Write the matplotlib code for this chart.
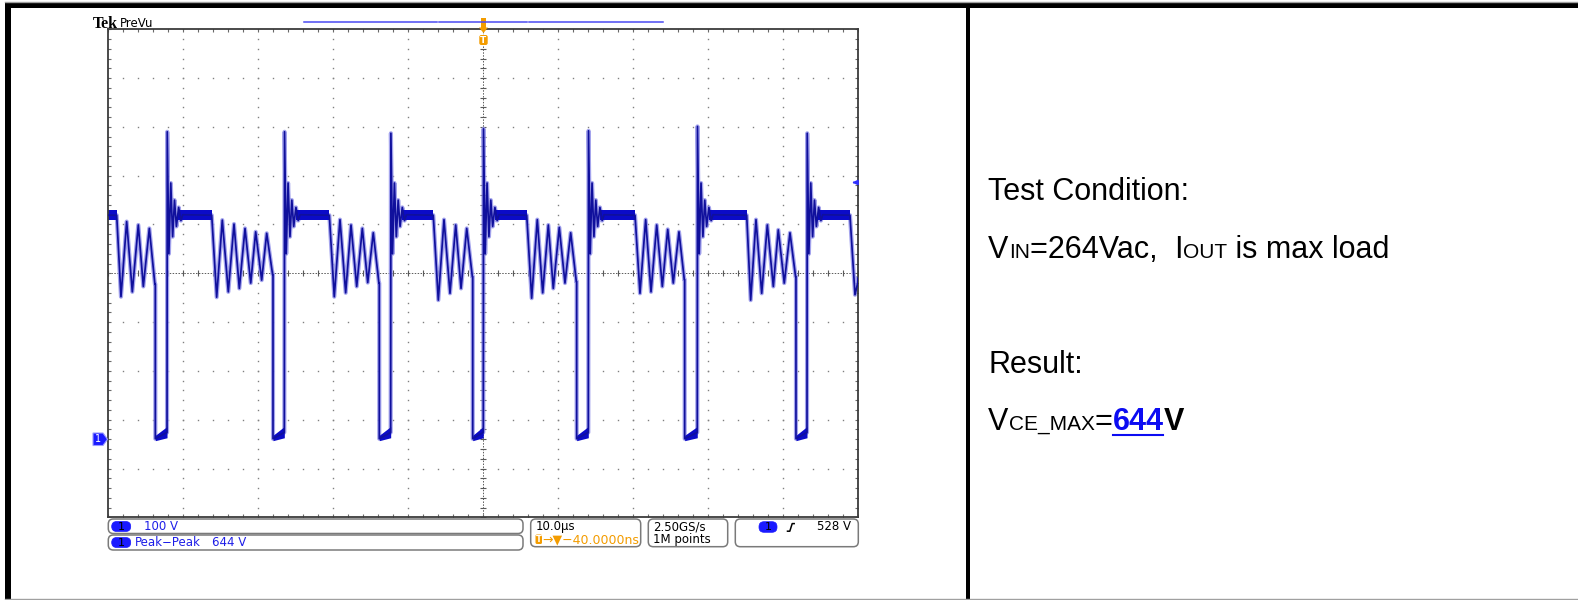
import numpy as np
import matplotlib
matplotlib.use("Agg")
import matplotlib.pyplot as plt
from matplotlib.patches import Rectangle, FancyBboxPatch, Polygon

# ---- scope capture, time in us, voltage in V (100 V/div, 10 us/div) ----
t_fall = [6.31, 22.00, 36.17, 48.63, 62.49, 76.89, 91.73]
t_rise = [7.87, 23.51, 37.69, 50.04, 64.04, 78.57, 93.20]
t_flat_end = [1.16, 13.83, 29.51, 43.37, 55.83, 70.27, 85.16, 98.93]
spike_peak = [630, 630, 627, 636, 632, 641, 627]

# valley ringing after the reflected-voltage plateau (turning points)
ring_t = [
    [1.73, 2.49, 3.24, 4.04, 4.71, 5.51, 6.25],
    [14.49, 15.24, 16.04, 16.80, 17.51, 18.27, 19.03, 19.69, 20.49, 21.16, 21.95],
    [30.17, 30.93, 31.69, 32.40, 33.16, 33.91, 34.63, 35.37, 36.12],
    [44.04, 44.80, 45.60, 46.36, 47.07, 47.83, 48.58],
    [56.49, 57.24, 57.96, 58.71, 59.37, 60.17, 60.93, 61.69, 62.44],
    [70.93, 71.69, 72.40, 73.16, 73.91, 74.63, 75.37, 76.13, 76.84],
    [85.69, 86.40, 87.16, 87.91, 88.71, 89.37, 90.17, 90.93, 91.68],
    [99.60, 99.96],
]
ring_v = [
    [292, 446, 302, 439, 313, 432, 318],
    [291, 449, 302, 441, 309, 432, 320, 425, 326, 422, 337],
    [292, 450, 300, 439, 313, 432, 321, 423, 320],
    [285, 450, 299, 439, 309, 432, 333],
    [289, 450, 300, 439, 309, 434, 320, 423, 323],
    [299, 450, 302, 439, 313, 430, 320, 425, 327],
    [285, 450, 299, 439, 313, 429, 320, 423, 333],
    [296, 320],
]
# leakage spike ringing after turn-off (offset from the edge, volts)
spike_dt = [0.25, 0.50, 0.75, 1.00, 1.25, 1.55, 1.85, 2.10]
spike_v = [380, 525, 415, 490, 436, 475, 448, 460]
plateau_v = 459
plateau_lo, plateau_hi = 449, 470
# on-state level at the start / end of each on-time
low_v = [1, 14]
low_lo = [-3, 3]
low_hi = [8, 26]

trig_level = 528
vpp = 644

# build the trace from the pieces above
t = [0.0, t_flat_end[0]]
v = [plateau_v, plateau_v]
for i in range(len(t_fall)):
    t += ring_t[i]
    v += ring_v[i]
    t += [t_fall[i], t_fall[i], t_rise[i], t_rise[i] + 0.03]
    v += [ring_v[i][-1], low_v[0], low_v[1], spike_peak[i]]
    t += [t_rise[i] + d for d in spike_dt]
    v += spike_v
    t += [t_flat_end[i + 1]]
    v += [plateau_v]
t += ring_t[-1] + [100.0]
v += ring_v[-1] + [330]

fig = plt.figure(figsize=(15.78, 6.0), dpi=100, facecolor='white')

# scope graticule
ax = fig.add_axes([108 / 1578, (600 - 517.3) / 600, 750 / 1578, 488 / 600])
ax.set_xlim(0, 100)
ax.set_ylim(-160, 840)
ax.set_xticks([])
ax.set_yticks([])
for s in ax.spines.values():
    s.set_color('#3c3c3c')
    s.set_linewidth(1.3)

grid_c = '#808080'
xs_minor = np.arange(0, 100.01, 2)
ys_minor = np.arange(-160, 840.1, 20)
for xd in range(10, 100, 10):
    if xd == 50:
        continue
    ax.plot(np.full(len(ys_minor), xd), ys_minor, ls='none', marker='s',
            ms=1.0, mew=0, color=grid_c)
for yd in range(-60, 840, 100):
    if yd == 340:
        continue
    ax.plot(xs_minor, np.full(len(xs_minor), yd), ls='none', marker='s',
            ms=1.0, mew=0, color=grid_c)
ax.axvline(50, ls=(0, (1.5, 1.5)), lw=0.7, color='#5a5a5a')
ax.axhline(340, ls=(0, (1.5, 1.5)), lw=0.7, color='#5a5a5a')
ax.plot(np.full(len(ys_minor), 50), ys_minor, ls='none', marker='_', ms=4,
        mew=0.8, color='#5a5a5a')
ax.plot(xs_minor, np.full(len(xs_minor), 340), ls='none', marker='|', ms=4,
        mew=0.8, color='#5a5a5a')
for yy in (-160, 840):
    ax.plot(xs_minor, np.full(len(xs_minor), yy), ls='none', marker='|',
            ms=4, mew=0.8, color='#6a6a6a')
for xx in (0, 100):
    ax.plot(np.full(len(ys_minor), xx), ys_minor, ls='none', marker='_',
            ms=4, mew=0.8, color='#6a6a6a')

# trace: soft halo, solid noise bands, then the sharp line
trace_c = '#10109c'
band_c = '#0b0bc8'
ax.plot(t, v, color='#9494ea', lw=3.0, alpha=0.85, solid_joinstyle='round',
        zorder=2)
ax.fill_between([0, t_flat_end[0]], plateau_lo, plateau_hi, color=band_c,
                lw=0, zorder=2.5)
for i in range(len(t_fall)):
    ax.fill_between([t_fall[i], t_rise[i]], low_lo, low_hi, color=band_c,
                    lw=0, zorder=2.5)
    ax.fill_between([t_rise[i] + 1.5, t_flat_end[i + 1]], plateau_lo,
                    plateau_hi, color=band_c, lw=0, zorder=2.5)
ax.plot(t, v, color=trace_c, lw=1.25, solid_joinstyle='round', zorder=3)

# overlay in pixel coordinates: frame, markers, readouts, notes
bg = fig.add_axes([0, 0, 1, 1], zorder=3)
bg.set_xlim(0, 1578)
bg.set_ylim(600, 0)
bg.axis('off')
bg.patch.set_alpha(0)

bg.plot([5, 1578], [1.8, 1.8], color='#a0a0a0', lw=1)
bg.add_patch(Rectangle((5, 2.7), 1573, 5.6, color='black', lw=0))
bg.add_patch(Rectangle((5, 2.7), 6, 597.3, color='black', lw=0))
bg.add_patch(Rectangle((966.3, 2.7), 3.4, 597.3, color='black', lw=0))
bg.plot([5, 1578], [598.8, 598.8], color='#a0a0a0', lw=1)

# header
bg.text(92.5, 27.5, 'Tek', family='Liberation Serif', weight='bold',
        fontsize=11.5, va='baseline')
bg.text(119.5, 27, 'PreVu', family='DejaVu Sans', fontsize=8.5, va='baseline')
rec_c = '#4a4af2'
for x0, x1 in [(304, 437), (439, 527), (529, 662.7)]:
    bg.plot([x0, x1], [22.3, 22.3], color=rec_c, lw=1.1)

orange = '#f39c00'
bg.add_patch(Rectangle((481.2, 18), 4.6, 10, color=orange, lw=0))
bg.add_patch(Polygon([(479, 27.5), (488, 27.5), (483.5, 33)], color=orange, lw=0))
bg.add_patch(FancyBboxPatch((479.3, 35), 8.4, 10, boxstyle='round,pad=0,rounding_size=2',
                            color=orange, lw=0))
bg.text(483.5, 40.3, 'T', color='white', fontsize=6.5, weight='bold',
        ha='center', va='center')

# ground marker and trigger level arrow
ch_blue = '#1a1aff'
bg.add_patch(Polygon([(93, 433), (103, 433), (107.5, 439.3), (103, 445.5), (93, 445.5)],
                     facecolor=ch_blue, edgecolor='#9a9aff', lw=0.8))
bg.text(98.5, 439.5, '1', color='white', fontsize=7, ha='center', va='center')
bg.annotate('', xy=(849.5, 182.5), xytext=(857, 182.5),
            arrowprops=dict(arrowstyle='-|>', color='#3030ff', lw=1.2,
                            mutation_scale=7))

# readout boxes
box_ec = '#7a7a7a'
def rbox(x0, y0, x1, y1):
    bg.add_patch(FancyBboxPatch((x0, y0), x1 - x0, y1 - y0,
                                boxstyle='round,pad=0,rounding_size=5',
                                facecolor='white', edgecolor=box_ec, lw=1.1))

def pill(x0, y0, x1, y1):
    bg.add_patch(FancyBboxPatch((x0, y0), x1 - x0, y1 - y0,
                                boxstyle='round,pad=0,rounding_size=5',
                                facecolor=ch_blue, edgecolor=ch_blue, lw=0.5))
    bg.text((x0 + x1) / 2, (y0 + y1) / 2 + 0.5, '1', color='black',
            fontsize=8, ha='center', va='center')

ro = dict(family='DejaVu Sans', fontsize=8.5, va='center')
read_blue = '#1e1ee8'
rbox(108.3, 519, 523, 533.5)
rbox(108.3, 535, 523, 550)
pill(111.7, 521.5, 130.7, 531.5)
pill(111.7, 537.5, 130.7, 547.5)
bg.text(144.3, 527, '100 V', color=read_blue, **ro)
bg.text(135, 543, 'Peak\u2212Peak', color=read_blue, **ro)
bg.text(211.7, 543, f'{vpp} V', color=read_blue, **ro)

rbox(530.7, 519, 640.7, 546.7)
bg.text(535.7, 526.8, '10.0\u00b5s', color='black', **ro)
bg.add_patch(FancyBboxPatch((535.5, 534.5), 6.5, 9.5,
                            boxstyle='round,pad=0,rounding_size=1.5',
                            color=orange, lw=0))
bg.text(538.8, 539.5, 'T', color='white', fontsize=6, weight='bold',
        ha='center', va='center')
bg.text(542.5, 539.6, '\u2192\u25bc\u221240.0000ns', color=orange,
        family='DejaVu Sans', fontsize=9, va='center')

rbox(648.3, 519, 727.7, 546.7)
bg.text(652.7, 526.8, '2.50GS/s', color='black', **ro)
bg.text(652.7, 539.6, '1M points', color='black', **ro)

rbox(735.3, 519, 858.3, 546.7)
pill(759, 521.7, 777, 532.3)
bg.plot([787.5, 789.8, 792.2, 794.2], [531.2, 531.2, 523.6, 523.6],
        color='black', lw=1.1)
bg.text(851, 527, f'{trig_level} V', color='black', ha='right',
        family='DejaVu Sans', fontsize=8.5, va='center')

# test notes on the right
fig.canvas.draw()
r = fig.canvas.get_renderer()

def put(x, y, s, size=22, **kw):
    txt = bg.text(x, y, s, family='Liberation Sans', fontsize=size,
                  va='baseline', ha='left', **kw)
    return x + txt.get_window_extent(renderer=r).width

big, small = 22, 15
put(988.3, 200, 'Test Condition:')
x = put(988.3, 258.3, 'V')
x = put(x, 258.3, 'IN', small)
x = put(x, 258.3, '=264Vac,  ')
x = put(x, 258.3, 'I')
x = put(x, 258.3, 'OUT', small)
put(x, 258.3, ' is max load')
put(988.3, 373.3, 'Result:')
x = put(988.3, 430, 'V')
x = put(x, 430, 'CE_MAX', small)
x = put(x, 430, '=')
x1 = put(x, 430, str(vpp), color='#0c0cf2', weight='bold')
bg.plot([x + 0.5, x1 - 0.5], [434.6, 434.6], color='#0c0cf2', lw=1.5)
put(x1, 430, 'V', weight='bold')

fig.savefig('out.png', dpi=100, facecolor='white')
